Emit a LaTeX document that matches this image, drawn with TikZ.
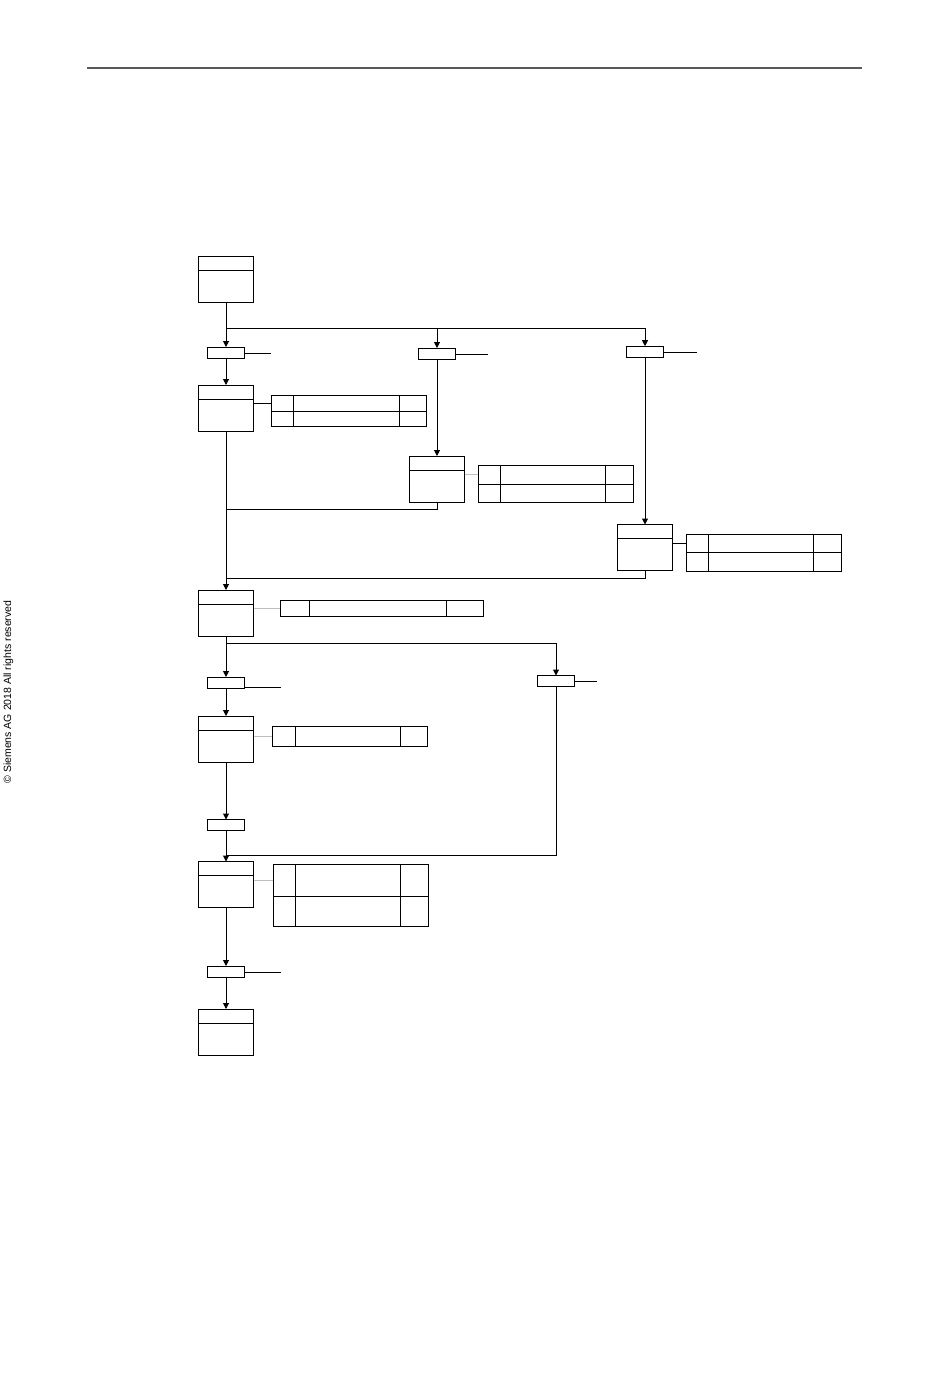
\documentclass[tikz,border=0pt]{standalone}
\usepackage{fontspec}
\setmainfont{Liberation Sans}
\usetikzlibrary{arrows.meta}
\begin{document}
\begin{tikzpicture}[x=1pt,y=-1pt,line width=1pt,
  stepbox/.style={draw,minimum width=55pt,minimum height=46pt,inner sep=0pt,outer sep=0pt},
  trans/.style={draw,minimum width=37pt,minimum height=11pt,inner sep=0pt,outer sep=0pt},
  tbl/.style={draw,anchor=north west,inner sep=0pt,outer sep=0pt},
  flow/.style={-{Triangle[width=6pt,length=6pt]}},
  link/.style={draw=black},
  glink/.style={draw=black!25},
  hdr/.style={line width=1pt}]
\useasboundingbox (0,0) rectangle (950,1387);
% page header rule
\coordinate (hl) at (87,68);
\coordinate (hr) at (862,68);
\draw[line width=1.2pt,black!65] (hl) -- (hr);
% copyright
\node[rotate=90,font=\fontsize{10.5}{12}\selectfont,text=black] (copy) at (8.5,692) {© Siemens AG 2018 All rights reserved};

% steps
\node[stepbox] (s1) at (226,279) {};
\node[stepbox] (s2) at (226,408) {};
\node[stepbox] (s3) at (437,479) {};
\node[stepbox] (s4) at (645,547.5) {};
\node[stepbox] (s5) at (226,613) {};
\node[stepbox] (s6) at (226,739) {};
\node[stepbox] (s7) at (226,884.5) {};
\node[stepbox] (s8) at (226,1032) {};
\foreach \s in {s1,s2,s3,s4,s5,s6,s7,s8}{
  \draw[hdr] ([yshift=-14pt]\s.north west) -- ([yshift=-14pt]\s.north east);
}

% transitions
\node[trans] (t1) at (226,352.5) {};
\node[trans] (t2) at (437,353.5) {};
\node[trans] (t3) at (645,351.7) {};
\node[trans] (t4) at (226,682.5) {};
\node[trans] (t5) at (556,681) {};
\node[trans] (t6) at (226,825) {};
\node[trans] (t7) at (226,971.5) {};

% transition condition lines
\coordinate (c1) at (271,353);
\coordinate (c2) at (488,354);
\coordinate (c3) at (697,352);
\coordinate (c4) at (281,687);
\coordinate (c5) at (597,681);
\coordinate (c7) at (281,972);
\draw (t1.east |- c1) -- (c1);
\draw (t2.east |- c2) -- (c2);
\draw (t3.east |- c3) -- (c3);
\draw (t4.east |- c4) -- (c4);
\draw (t5.east |- c5) -- (c5);
\draw (t7.east |- c7) -- (c7);

% action tables
\node[tbl,minimum width=155pt,minimum height=31pt] (a2) at (271.7,395.3) {};
\draw (271.7,411.3) -- (426.7,411.3);
\draw (293.3,395.3) -- (293.3,426.3);
\draw (399.3,395.3) -- (399.3,426.3);
\coordinate (a2r) at (271.7,403);

\node[tbl,minimum width=155.4pt,minimum height=37pt] (a3) at (478.3,465.3) {};
\draw (478.3,484.3) -- (633.7,484.3);
\draw (500.3,465.3) -- (500.3,502.3);
\draw (605.7,465.3) -- (605.7,502.3);
\coordinate (a3r) at (478.3,474.5);

\node[tbl,minimum width=155.4pt,minimum height=37pt] (a4) at (686.3,534.3) {};
\draw (686.3,552.3) -- (841.7,552.3);
\draw (708.3,534.3) -- (708.3,571.3);
\draw (813.7,534.3) -- (813.7,571.3);
\coordinate (a4r) at (686.3,543.3);

\node[tbl,minimum width=203.4pt,minimum height=16pt] (a5) at (280.3,600.3) {};
\draw (309.3,600.3) -- (309.3,616.3);
\draw (446.7,600.3) -- (446.7,616.3);
\coordinate (a5r) at (280.3,608.3);

\node[tbl,minimum width=155pt,minimum height=19.7pt] (a6) at (272.3,726.3) {};
\draw (295.3,726.3) -- (295.3,746);
\draw (400.7,726.3) -- (400.7,746);
\coordinate (a6r) at (272.3,736.3);

\node[tbl,minimum width=155pt,minimum height=62pt] (a7) at (273.3,864.3) {};
\draw (273.3,896.7) -- (428.3,896.7);
\draw (295.3,864.3) -- (295.3,926.3);
\draw (400.3,864.3) -- (400.3,926.3);
\coordinate (a7r) at (273.3,880.3);

% step-action connectors
\draw[link] (s2.east |- a2r) -- (a2r);
\draw[glink] (s3.east |- a3r) -- (a3r);
\draw[link] (s4.east |- a4r) -- (a4r);
\draw[glink] (s5.east |- a5r) -- (a5r);
\draw[glink] (s6.east |- a6r) -- (a6r);
\draw[glink] (s7.east |- a7r) -- (a7r);

% flow
\coordinate (b1) at (226,328);
\coordinate (m1) at (226,509.3);
\coordinate (m2) at (226,578);
\coordinate (b2) at (226,643.3);
\coordinate (m3) at (226,855.3);

\draw[flow] (s1.south) -- (t1.north);
\draw[flow] (b1) -| (t2.north);
\draw[flow] (b1) -| (t3.north);
\draw[flow] (t1.south) -- (s2.north);
\draw[flow] (t2.south) -- (s3.north);
\draw[flow] (t3.south) -- (s4.north);
\draw (s3.south) |- (m1);
\draw (s4.south) |- (m2);
\draw[flow] (s2.south) -- (s5.north);
\draw[flow] (s5.south) -- (t4.north);
\draw[flow] (b2) -| (t5.north);
\draw[flow] (t4.south) -- (s6.north);
\draw[flow] (s6.south) -- (t6.north);
\draw[flow] (t6.south) -- (s7.north);
\draw (t5.south) |- (m3);
\draw[flow] (s7.south) -- (t7.north);
\draw[flow] (t7.south) -- (s8.north);
\end{tikzpicture}
\end{document}
